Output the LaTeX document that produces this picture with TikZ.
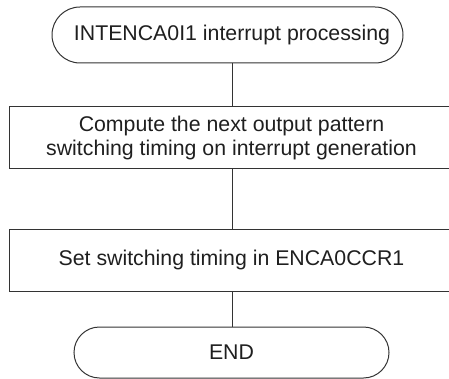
\documentclass[tikz,border=0pt]{standalone}
\usepackage{fontspec}
\setmainfont{Liberation Sans}
\usetikzlibrary{shapes.misc}
\begin{document}
\begin{tikzpicture}[x=1pt,y=-1pt,
  every node/.style={font=\fontsize{21.3}{24}\selectfont, text=black!88, inner sep=0pt, line width=1pt, draw=black!80},
  term/.style={rounded rectangle},
  procbox/.style={rectangle, align=center},
  conn/.style={line width=1pt, draw=black!80}]
\useasboundingbox (0,0) rectangle (449,379);
\coordinate (col) at (232,0);
\node[term, minimum width=351pt, minimum height=56pt] (t1) at (227.5,35) {\hspace*{9pt}INTENCA0I1 interrupt processing};
\node[procbox, minimum width=445pt, minimum height=62pt] (b1) at (231.5,138) {Compute the next output pattern\\switching timing on interrupt generation};
\node[procbox, minimum width=445pt, minimum height=62pt] (b2) at (231.5,260) {Set switching timing in ENCA0CCR1};
\node[term, minimum width=315pt, minimum height=51pt] (t2) at (231.5,352.5) {END};
\draw[conn] (t1.south -| col) -- (b1.north -| col);
\draw[conn] (b1.south -| col) -- (b2.north -| col);
\draw[conn] (b2.south -| col) -- (t2.north -| col);
\end{tikzpicture}
\end{document}
